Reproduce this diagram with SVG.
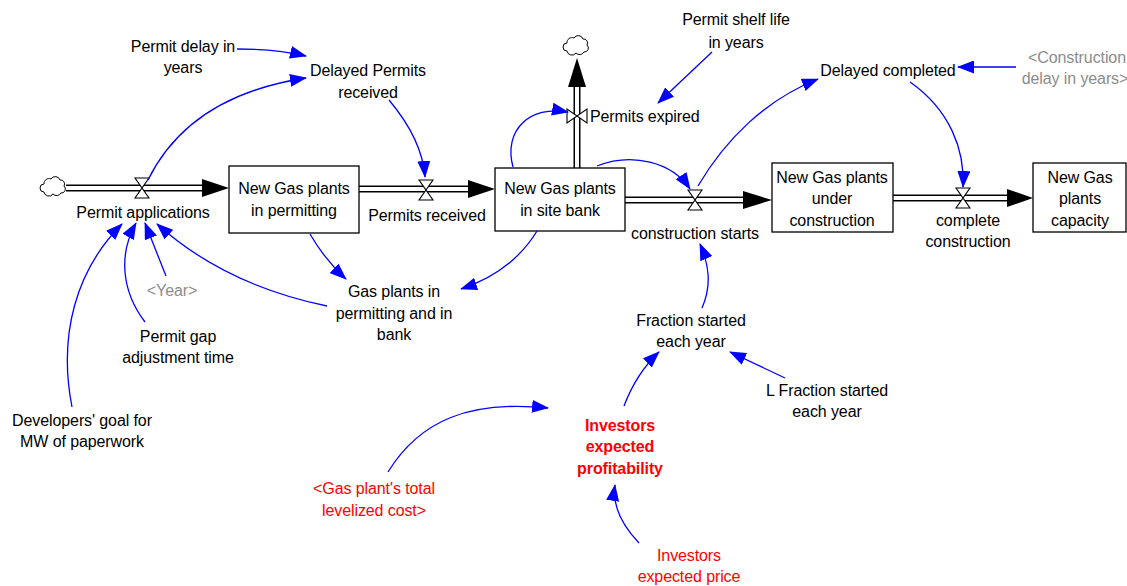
<svg xmlns="http://www.w3.org/2000/svg" width="1127" height="586" viewBox="0 0 1127 586">
<style>
text{font-family:"Liberation Sans",Arial,sans-serif;font-size:16px;fill:#000;text-anchor:middle;letter-spacing:-0.1px}
.grey{fill:#8c8c8c}
.red{fill:#ff0000}
.bold{font-weight:bold}
.stock{fill:#fff;stroke:#000;stroke-width:1.3}
.pipeO{stroke:#000;stroke-width:7;fill:none}
.pipeI{stroke:#fff;stroke-width:4;fill:none}
.head{fill:#000}
.valve{fill:#fff;stroke:#000;stroke-width:1.1}
.cloud{fill:#fff;stroke:#000;stroke-width:1}
.link{fill:none;stroke:#0000ff;stroke-width:1.3;marker-end:url(#ah)}
</style>
<defs>
<marker id="ah" markerUnits="userSpaceOnUse" markerWidth="17" markerHeight="13" refX="16" refY="6.5" orient="auto">
<path d="M0,0 L17,6.5 L0,13 Z" fill="#0000ff"/>
</marker>
<path id="cloudShape" class="cloud" d="M-11,4 a4,4 0 0 1 0,-8 a5,5 0 0 1 7,-5 a5,5 0 0 1 9,1 a4,4 0 0 1 4,6 a4,4 0 0 1 -3,7 a5,5 0 0 1 -8,1 a5,5 0 0 1 -9,-2 z"/>
<path id="valveShape" class="valve" d="M-7,-10 L7,-10 L-7,10 L7,10 Z"/>
</defs>
<rect width="1127" height="586" fill="#fff"/>

<g id="flows">
<path class="pipeO" d="M66,188 H204"/><path class="pipeI" d="M66,188 H204"/>
<polygon class="head" points="202,179 229,188 202,197"/>
<path class="pipeO" d="M359,189 H470"/><path class="pipeI" d="M357,189 H470"/>
<polygon class="head" points="468,180 495,189 468,198"/>
<path class="pipeO" d="M625,200 H745"/><path class="pipeI" d="M623,200 H745"/>
<polygon class="head" points="743,191 772,200 743,209"/>
<path class="pipeO" d="M893,198 H1009"/><path class="pipeI" d="M891,198 H1009"/>
<polygon class="head" points="1007,189 1033,198 1007,207"/>
<path class="pipeO" d="M577,168 V85"/><path class="pipeI" d="M577,170 V85"/>
<polygon class="head" points="568,87 577,58 586,87"/>
</g>

<g id="cloud-source"><use href="#cloudShape" transform="translate(55,188)"/></g>
<g id="cloud-sink"><use href="#cloudShape" transform="translate(578,47)"/></g>

<g id="stock-permitting">
<rect class="stock" x="229" y="166" width="130" height="67"/>
<text x="294" y="194">New Gas plants</text><text x="294" y="216">in permitting</text>
</g>
<g id="stock-sitebank">
<rect class="stock" x="495" y="168" width="130" height="63"/>
<text x="560" y="194">New Gas plants</text><text x="560" y="216">in site bank</text>
</g>
<g id="stock-construction">
<rect class="stock" x="772" y="163" width="121" height="69"/>
<text x="832" y="183">New Gas plants</text><text x="832" y="204">under</text><text x="832" y="226">construction</text>
</g>
<g id="stock-capacity">
<rect class="stock" x="1033" y="163" width="93" height="69"/>
<text x="1080" y="183">New Gas</text><text x="1080" y="204">plants</text><text x="1080" y="226">capacity</text>
</g>

<g id="flow-permit-applications">
<use href="#valveShape" transform="translate(142,188)"/>
<text x="143" y="218">Permit applications</text>
</g>
<g id="flow-permits-received">
<use href="#valveShape" transform="translate(426,190)"/>
<text x="427" y="221">Permits received</text>
</g>
<g id="flow-construction-starts">
<use href="#valveShape" transform="translate(695,200)"/>
<text x="695" y="239">construction starts</text>
</g>
<g id="flow-complete-construction">
<use href="#valveShape" transform="translate(963,198)"/>
<text x="968" y="226">complete</text><text x="968" y="247">construction</text>
</g>
<g id="flow-permits-expired">
<use href="#valveShape" transform="translate(577,116) rotate(90)"/>
<text x="590" y="122" style="text-anchor:start">Permits expired</text>
</g>

<g id="aux-permit-delay"><text x="183" y="52">Permit delay in</text><text x="183" y="73">years</text></g>
<g id="aux-delayed-permits"><text x="368" y="76">Delayed Permits</text><text x="368" y="98">received</text></g>
<g id="aux-shelf-life"><text x="736" y="25">Permit shelf life</text><text x="736" y="48">in years</text></g>
<g id="aux-delayed-completed"><text x="888" y="76">Delayed completed</text></g>
<g id="aux-construction-delay"><text class="grey" x="1077" y="63">&lt;Construction</text><text class="grey" x="1075" y="84">delay in years&gt;</text></g>
<g id="aux-gas-plants-total"><text x="394" y="297">Gas plants in</text><text x="394" y="319">permitting and in</text><text x="394" y="340">bank</text></g>
<g id="aux-year"><text class="grey" x="172" y="296">&lt;Year&gt;</text></g>
<g id="aux-permit-gap"><text x="178" y="342">Permit gap</text><text x="178" y="363">adjustment time</text></g>
<g id="aux-developers-goal"><text x="82" y="426">Developers' goal for</text><text x="82" y="447">MW of paperwork</text></g>
<g id="aux-fraction-started"><text x="691" y="326">Fraction started</text><text x="691" y="347">each year</text></g>
<g id="aux-l-fraction"><text x="827" y="396">L Fraction started</text><text x="827" y="417">each year</text></g>
<g id="aux-investors-profitability"><text class="red bold" x="620" y="431">Investors</text><text class="red bold" x="620" y="452">expected</text><text class="red bold" x="620" y="474">profitability</text></g>
<g id="aux-levelized-cost"><text class="red" x="374" y="494">&lt;Gas plant's total</text><text class="red" x="374" y="516">levelized cost&gt;</text></g>
<g id="aux-expected-price"><text class="red" x="689" y="561">Investors</text><text class="red" x="689" y="582">expected price</text></g>

<g id="connectors">
<path class="link" d="M237,49 C262,49 285,51 306,56"/>
<path class="link" d="M148,180 C180,115 240,88 306,78"/>
<path class="link" d="M389,100 C410,125 423,150 425,177"/>
<path class="link" d="M513,167 C503,130 530,105 568,112"/>
<path class="link" d="M597,166 C632,152 672,162 690,189"/>
<path class="link" d="M698,186 C725,140 765,100 818,79"/>
<path class="link" d="M1016,67 L958,67"/>
<path class="link" d="M910,82 C950,110 965,150 963,187"/>
<path class="link" d="M712,52 L658,103"/>
<path class="link" d="M310,234 Q325,260 346,279"/>
<path class="link" d="M537,231 Q512,272 461,289"/>
<path class="link" d="M327,306 Q225,285 157,224"/>
<path class="link" d="M166,276 L145,223"/>
<path class="link" d="M145,322 C122,292 118,255 136,223"/>
<path class="link" d="M72,407 C58,335 76,270 122,224"/>
<path class="link" d="M702,308 C712,285 709,265 700,244"/>
<path class="link" d="M785,378 L730,352"/>
<path class="link" d="M624,406 C632,385 643,367 659,352"/>
<path class="link" d="M388,472 C420,420 470,400 548,408"/>
<path class="link" d="M639,543 C622,525 612,505 615,485"/>
</g>
</svg>
